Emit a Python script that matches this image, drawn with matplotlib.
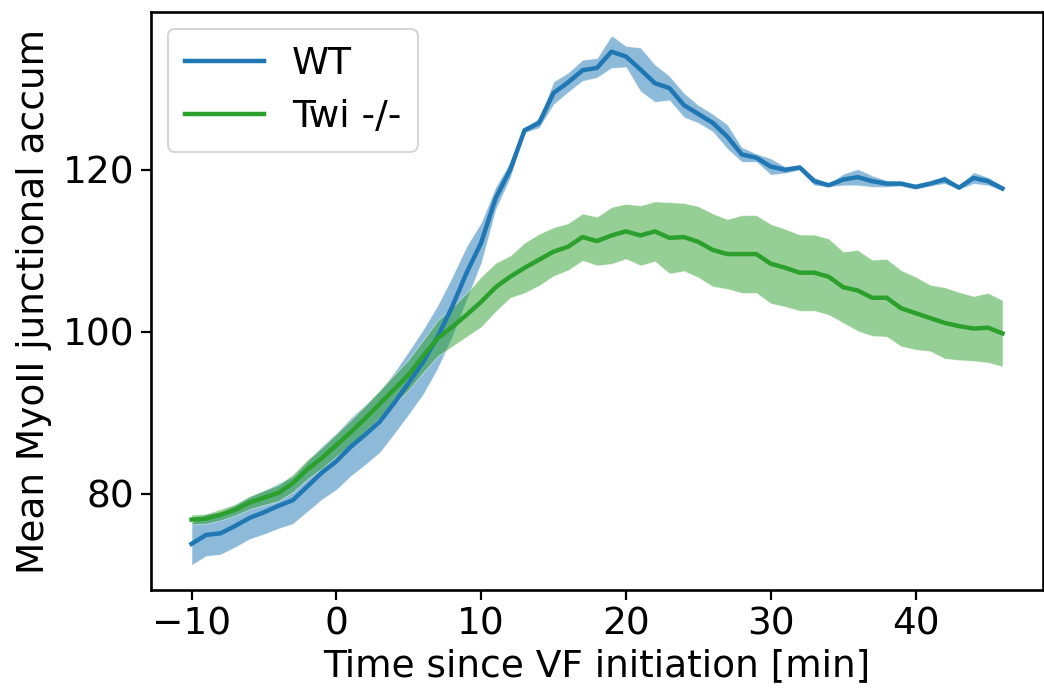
import numpy as np
import matplotlib
matplotlib.use("Agg")
import matplotlib.pyplot as plt

time_min = list(range(-10, 47))

wt_mean = [73.8, 74.9, 75.1, 76.0, 77.0, 77.7, 78.5, 79.2, 80.9, 82.6, 84.0,
           85.8, 87.3, 88.9, 91.2, 93.7, 96.3, 99.4, 103.1, 107.3, 111.0,
           116.5, 120.0, 124.9, 125.8, 129.5, 130.8, 132.3, 132.6, 134.6, 134.0,
           132.4, 130.7, 130.1, 128.0, 126.9, 125.8, 124.1, 121.9, 121.5, 120.4,
           120.0, 120.3, 118.6, 118.1, 118.8, 119.1, 118.6, 118.3, 118.3, 117.9,
           118.3, 118.8, 117.8, 119.0, 118.6, 117.7]
wt_sem = [2.6, 2.6, 2.6, 2.6, 2.6, 2.7, 2.8, 2.9, 3.1, 3.3, 3.5,
          3.6, 3.7, 3.8, 3.8, 3.9, 4.0, 3.9, 3.7, 3.3, 2.5,
          1.4, 1.0, 0.3, 0.6, 1.4, 1.2, 1.3, 1.2, 2.0, 1.3,
          2.7, 2.3, 1.5, 1.5, 1.1, 1.1, 1.5, 0.9, 0.5, 1.0,
          0.4, 0.3, 0.5, 0.2, 0.7, 1.0, 0.7, 0.4, 0.3, 0.3,
          0.3, 0.5, 0.2, 0.7, 0.5, 0.3]

twi_mean = [76.8, 76.9, 77.4, 78.0, 78.9, 79.5, 80.1, 81.3, 83.0, 84.4, 86.0,
            87.6, 89.3, 91.1, 92.9, 94.7, 97.0, 99.2, 100.6, 102.1, 103.7,
            105.5, 106.8, 107.9, 108.9, 109.9, 110.5, 111.7, 111.2, 111.9, 112.4,
            111.9, 112.4, 111.6, 111.7, 111.1, 110.1, 109.6, 109.6, 109.6, 108.4,
            107.9, 107.3, 107.3, 106.8, 105.5, 105.1, 104.2, 104.2, 102.9, 102.3,
            101.7, 101.1, 100.7, 100.4, 100.5, 99.8]
twi_sem = [0.6, 0.6, 0.7, 0.7, 0.8, 0.9, 1.0, 1.1, 1.2, 1.3, 1.4,
           1.5, 1.6, 1.7, 1.8, 1.9, 2.0, 2.2, 2.4, 2.7, 3.1,
           3.0, 2.6, 3.1, 3.2, 3.0, 2.9, 2.9, 3.0, 3.5, 3.4,
           3.7, 3.7, 4.4, 4.2, 4.4, 4.5, 4.3, 4.8, 4.8, 4.9,
           4.8, 4.7, 4.7, 4.7, 4.4, 5.0, 4.7, 4.8, 4.7, 4.5,
           4.1, 4.4, 4.2, 4.0, 4.3, 4.1]

series_labels = ["WT", "Twi -/-"]
x_label = "Time since VF initiation [min]"
y_label = "Mean MyoII junctional accum"
x_ticks = [-10, 0, 10, 20, 30, 40]
y_ticks = [80, 100, 120]

FS = 27
plt.rcParams['font.family'] = ['DejaVu Sans']

fig = plt.figure(figsize=(10.44, 6.92), dpi=100)
ax = fig.add_axes([151 / 1044, 1 - 590 / 692, (1043 - 151) / 1044, (590 - 12) / 692])

t = np.array(time_min)
for mean, sem, col, lab in [(wt_mean, wt_sem, '#1f77b4', series_labels[0]),
                            (twi_mean, twi_sem, '#2ca02c', series_labels[1])]:
    m = np.array(mean)
    s = np.array(sem)
    ax.plot(t, m, color=col, lw=3.2, label=lab, zorder=3)
    ax.fill_between(t, m - s, m + s, facecolor=col, alpha=0.5,
                    edgecolor='white', lw=0.6, zorder=2)

ax.set_xticks(x_ticks)
ax.set_yticks(y_ticks)
ax.tick_params(labelsize=FS, length=7, width=1.6, pad=5)
for sp in ax.spines.values():
    sp.set_linewidth(1.9)
ax.set_xlabel(x_label, fontsize=FS, labelpad=4)
ax.set_ylabel(y_label, fontsize=FS, labelpad=8)
ax.set_xlim(-12.8, 48.8)
ax.set_ylim(68.1, 139.5)
leg = ax.legend(loc='upper left', fontsize=FS, handlelength=2.1, borderpad=0.45,
                handletextpad=0.75, labelspacing=0.45, borderaxespad=0.45)
leg.get_frame().set_linewidth(1.5)

fig.savefig("out.png", dpi=100)
